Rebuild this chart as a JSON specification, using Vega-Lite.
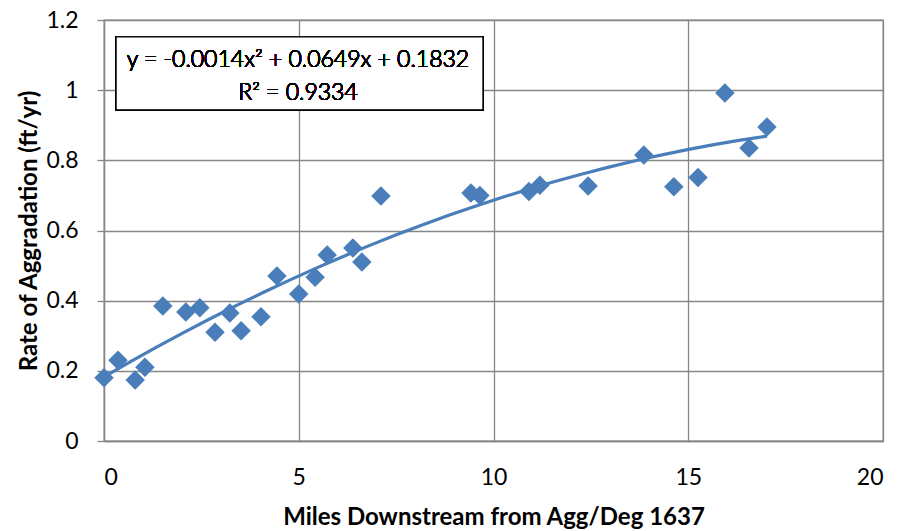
{
  "$schema": "https://vega.github.io/schema/vega-lite/v6.json",
  "width": 779,
  "height": 421,
  "autosize": {"type": "none"},
  "padding": {"left": 104, "top": 20, "right": 22, "bottom": 90},
  "background": "white",
  "config": {
    "font": "Lato",
    "view": {"stroke": "#868686", "strokeWidth": 1.3},
    "axis": {
      "gridColor": "#868686",
      "gridWidth": 1.3,
      "domainColor": "#868686",
      "domainWidth": 1.3,
      "tickColor": "#868686",
      "tickWidth": 1.3,
      "labelFont": "Lato",
      "labelFontSize": 23,
      "labelColor": "#000000",
      "titleFont": "Lato",
      "titleFontSize": 24,
      "titleFontWeight": "bold",
      "titleColor": "#000000"
    }
  },
  "data": {
    "values": [
      {"miles": 0.0, "rate": 0.180},
      {"miles": 0.36, "rate": 0.230},
      {"miles": 0.80, "rate": 0.174},
      {"miles": 1.05, "rate": 0.210},
      {"miles": 1.51, "rate": 0.385},
      {"miles": 2.10, "rate": 0.368},
      {"miles": 2.46, "rate": 0.380},
      {"miles": 2.85, "rate": 0.310},
      {"miles": 3.23, "rate": 0.365},
      {"miles": 3.52, "rate": 0.314},
      {"miles": 4.03, "rate": 0.354},
      {"miles": 4.44, "rate": 0.470},
      {"miles": 5.00, "rate": 0.419},
      {"miles": 5.42, "rate": 0.467},
      {"miles": 5.73, "rate": 0.530},
      {"miles": 6.39, "rate": 0.550},
      {"miles": 6.62, "rate": 0.510},
      {"miles": 7.11, "rate": 0.698},
      {"miles": 9.42, "rate": 0.707},
      {"miles": 9.65, "rate": 0.700},
      {"miles": 10.91, "rate": 0.711},
      {"miles": 11.19, "rate": 0.729},
      {"miles": 12.43, "rate": 0.727},
      {"miles": 13.86, "rate": 0.815},
      {"miles": 14.63, "rate": 0.725},
      {"miles": 15.25, "rate": 0.751},
      {"miles": 15.94, "rate": 0.992},
      {"miles": 16.56, "rate": 0.835},
      {"miles": 17.02, "rate": 0.895}
    ]
  },
  "layer": [
    {
      "mark": {"type": "point", "shape": "diamond", "filled": true, "size": 380, "color": "#4A7EBB", "opacity": 1},
      "encoding": {
        "x": {
          "field": "miles", "type": "quantitative",
          "scale": {"domain": [0, 20], "nice": false, "zero": false},
          "axis": {
            "values": [0, 5, 10, 15, 20],
            "title": "Miles Downstream from Agg/Deg 1637",
            "ticks": false,
            "tickSize": 0,
            "labelPadding": 25,
            "titlePadding": 16,
            "grid": true
          }
        },
        "y": {
          "field": "rate", "type": "quantitative",
          "scale": {"domain": [0, 1.2], "nice": false},
          "axis": {
            "values": [0, 0.2, 0.4, 0.6, 0.8, 1, 1.2],
            "format": ".1~f",
            "title": "Rate of Aggradation (ft/yr)",
            "tickSize": 7,
            "labelPadding": 19,
            "titlePadding": 4,
            "grid": true
          }
        }
      }
    },
    {
      "transform": [
        {"regression": "rate", "on": "miles", "method": "poly", "order": 2}
      ],
      "mark": {"type": "line", "color": "#4A7EBB", "strokeWidth": 3.2},
      "encoding": {
        "x": {"field": "miles", "type": "quantitative"},
        "y": {"field": "rate", "type": "quantitative"}
      }
    },
    {
      "mark": {"type": "rect", "fill": "white", "stroke": "#000000", "strokeWidth": 1.3},
      "encoding": {
        "x": {"datum": 0.31, "type": "quantitative"},
        "x2": {"datum": 9.73},
        "y": {"datum": 1.152, "type": "quantitative"},
        "y2": {"datum": 0.944}
      }
    },
    {
      "mark": {"type": "text", "fontSize": 23, "font": "Lato", "fontWeight": 300, "fill": "#000000", "align": "center", "baseline": "middle"},
      "encoding": {
        "x": {"datum": 4.98, "type": "quantitative"},
        "y": {"datum": 1.086, "type": "quantitative"},
        "text": {"value": "y = -0.0014x² + 0.0649x + 0.1832"}
      }
    },
    {
      "mark": {"type": "text", "fontSize": 23, "font": "Lato", "fontWeight": 300, "fill": "#000000", "align": "center", "baseline": "middle"},
      "encoding": {
        "x": {"datum": 4.98, "type": "quantitative"},
        "y": {"datum": 0.992, "type": "quantitative"},
        "text": {"value": "R² = 0.9334"}
      }
    }
  ]
}
